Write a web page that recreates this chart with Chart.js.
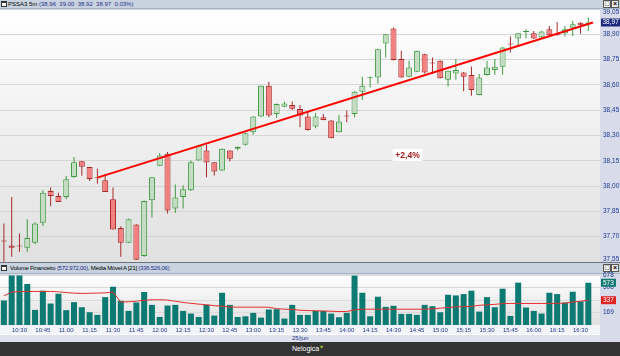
<!DOCTYPE html>
<html><head><meta charset="utf-8">
<script src="https://cdn.jsdelivr.net/npm/chart.js@4/dist/chart.umd.min.js"></script>
<style>
html,body{margin:0;padding:0;}
body{width:620px;height:356px;position:relative;overflow:hidden;background:#d7dbea;font-family:"Liberation Sans",Arial,sans-serif;}
.a{position:absolute;}
.hdr{left:0;width:620px;background:#c9d3df;border-bottom:1px solid #a7b2c0;font-size:6px;white-space:pre;color:#000;}
.nv{color:#1a2f8a;}
.ico{width:4px;height:3px;border:1px solid #333;border-top-width:2px;background:#fff;}
.btn{width:6px;height:6px;border:1px solid #555;background:#f2f2f2;font-size:7px;line-height:6px;text-align:center;color:#000;font-weight:bold;}
canvas{position:absolute;left:0;}
</style></head>
<body>
<div class="a hdr" style="top:0;height:8px;line-height:8px;"><span class="a ico" style="left:1px;top:1px;"></span><span class="a" style="left:8px;top:0;">PSSA3 5m <span class="nv">(38.96  39.00  38.92  38.97  0.03%)</span></span><span class="a btn" style="left:603px;top:0px;">□</span><span class="a btn" style="left:611px;top:0px;">×</span></div>
<div class="a" style="left:0;top:262px;width:620px;height:1px;background:#6e737c;"></div>
<div class="a hdr" style="top:263px;height:10px;line-height:10px;"><span class="a ico" style="left:1px;top:2px;"></span><span class="a" style="left:10px;top:0;letter-spacing:-0.25px;">Volume Financeiro <span class="nv">(572.972,00)</span>, Média Móvel A [21] <span class="nv">(336.526,06)</span></span><span class="a btn" style="left:603px;top:1px;">□</span><span class="a btn" style="left:611px;top:1px;">×</span></div>
<div class="a" style="left:0;top:325px;width:600px;height:9px;background:#f3f4f8;"></div>
<div class="a" style="left:0;top:334px;width:600px;height:8px;background:#dfe2ec;border-top:1px solid #ffffff;box-sizing:border-box;"></div>
<div class="a" style="left:292px;top:335px;font-size:6px;line-height:7px;color:#1a2f8a;">25/jun</div>
<div class="a" style="left:0;top:342px;width:620px;height:14px;background:#333333;"></div>
<div class="a" style="left:292px;top:344px;font-size:7px;line-height:10px;color:#ffffff;">Nelogica<span style="color:#a6d22c;font-size:6px;position:relative;top:-2px;">✦</span></div>
<canvas id="price" width="620" height="262" style="top:0;width:620px;height:262px;"></canvas>
<canvas id="vol" width="620" height="65" style="top:270px;width:620px;height:65px;"></canvas>
<script>
const categories = ['10:20','10:25','10:30','10:35','10:40','10:45','10:50','10:55','11:00','11:05',
'11:10','11:15','11:20','11:25','11:30','11:35','11:40','11:45','11:50','11:55',
'12:00','12:05','12:10','12:15','12:20','12:25','12:30','12:35','12:40','12:45',
'12:50','12:55','13:00','13:05','13:10','13:15','13:20','13:25','13:30','13:35',
'13:40','13:45','13:50','13:55','14:00','14:05','14:10','14:15','14:20','14:25',
'14:30','14:35','14:40','14:45','14:50','14:55','15:00','15:05','15:10','15:15',
'15:20','15:25','15:30','15:35','15:40','15:45','15:50','15:55','16:00','16:05',
'16:10','16:15','16:20','16:25','16:30','16:35'];
const timeTicks = ['10:30','10:45','11:00','11:15','11:30','11:45','12:00','12:15','12:30','12:45',
'13:00','13:15','13:30','13:45','14:00','14:15','14:30','14:45','15:00','15:15',
'15:30','15:45','16:00','16:15','16:30'];
const openP = [37.676,37.648,37.646,37.634,37.664,37.782,37.971,37.942,37.936,38.054,
38.148,38.113,38.050,38.034,37.922,37.751,37.664,37.772,37.585,37.916,
38.121,38.192,37.867,37.936,37.975,38.152,38.211,38.142,38.093,38.211,
38.221,38.245,38.320,38.412,38.595,38.428,38.471,38.481,38.457,38.412,
38.353,38.408,38.389,38.320,38.416,38.428,38.560,38.643,38.644,38.845,
38.935,38.753,38.648,38.678,38.782,38.731,38.743,38.631,38.668,38.674,
38.658,38.540,38.658,38.688,38.707,38.843,38.875,38.914,38.906,38.881,
38.930,38.900,38.906,38.939,38.969,38.96];
const highP = [37.778,37.936,37.719,37.804,37.785,37.975,37.991,37.961,38.060,38.172,
38.150,38.113,38.103,38.073,37.991,37.762,37.806,37.774,37.914,38.054,
38.196,38.202,38.009,38.005,38.152,38.245,38.245,38.142,38.225,38.212,
38.235,38.316,38.414,38.597,38.619,38.489,38.501,38.501,38.481,38.438,
38.434,38.428,38.392,38.422,38.448,38.562,38.648,38.650,38.814,38.902,
38.940,38.802,38.743,38.804,38.784,38.763,38.745,38.686,38.753,38.676,
38.709,38.664,38.743,38.753,38.824,38.887,38.908,38.930,38.920,38.920,
38.949,38.973,38.949,38.979,38.971,39.00];
const lowP = [37.552,37.581,37.611,37.611,37.655,37.764,37.881,37.906,37.922,38.050,
38.062,38.030,38.014,37.965,37.743,37.581,37.662,37.562,37.581,37.814,
38.119,37.837,37.841,37.867,37.971,38.150,38.052,38.063,38.090,38.148,
38.213,38.241,38.304,38.410,38.408,38.404,38.467,38.451,38.349,38.330,
38.343,38.390,38.283,38.318,38.379,38.408,38.510,38.585,38.609,38.763,
38.745,38.643,38.646,38.676,38.668,38.664,38.638,38.591,38.631,38.562,
38.536,38.538,38.656,38.660,38.660,38.792,38.837,38.875,38.873,38.877,
38.892,38.892,38.887,38.890,38.904,38.92];
const closeP = [37.672,37.634,37.642,37.692,37.778,37.961,37.942,37.906,38.040,38.142,
38.115,38.042,38.046,37.965,37.743,37.664,37.804,37.564,37.912,38.052,
38.182,37.855,37.932,37.981,38.142,38.241,38.140,38.087,38.222,38.162,
38.233,38.314,38.412,38.595,38.418,38.487,38.489,38.459,38.418,38.333,
38.412,38.392,38.284,38.383,38.412,38.560,38.595,38.648,38.812,38.900,
38.747,38.644,38.703,38.802,38.674,38.727,38.640,38.684,38.688,38.648,
38.570,38.644,38.703,38.707,38.822,38.839,38.906,38.920,38.875,38.916,
38.894,38.894,38.930,38.959,38.953,38.97];
const volume = [332,672,672,556,205,465,291,424,201,310,
241,173,137,378,519,328,191,305,447,273,
109,264,273,191,155,109,273,128,437,273,
109,118,164,100,210,214,87,273,137,137,
191,191,155,105,164,670,437,118,383,246,
260,150,150,137,273,255,173,410,401,419,
465,182,378,241,492,123,574,237,191,155,
437,419,305,451,323,573];
const volumeMA = [396,447,452,455,455,455,455,450,440,432,
428,430,433,436,447,310,315,322,335,342,
342,338,322,305,294,283,275,262,255,245,
242,242,242,242,240,222,214,212,200,196,
193,190,186,183,183,205,214,214,214,214,
214,214,214,214,214,220,228,238,245,250,
252,268,273,280,290,292,292,292,292,292,
292,294,296,310,322,336.5];
const priceTicks = [37.55,37.70,37.85,38.00,38.15,38.30,38.45,38.60,38.75,38.90,39.05];
const volumeTicks = [169,339,508,678];
const trendX = [12,75.6];
const trendY = [38.05,38.97];
const trendNote = {text:'+2,4%', x:51.8, y:38.185};

const NAVY = '#1e3a8c';
const UP_FILL = '#c4dcc4', UP_LINE = '#3f9a3f', DN_FILL = '#f47f7f', DN_LINE = '#a82b2b';
const FONT = 'Liberation Sans';
const fmtP = v => Number(v).toFixed(2).replace('.', ',');
const idx = categories.map((c, i) => i);
const isUp = closeP.map((c, i) => c >= openP[i]);
const last = categories.length - 1;

function bgPlugin(id){
  return {id, beforeDraw(chart){
    const {ctx, chartArea:a} = chart;
    const g = ctx.createLinearGradient(0, a.top, 0, a.bottom);
    g.addColorStop(0, '#ffffff'); g.addColorStop(1, '#e0e0e0');
    ctx.save(); ctx.fillStyle = g; ctx.fillRect(a.left, a.top, a.right - a.left, a.bottom - a.top); ctx.restore();
  }};
}

const priceOverlay = {id:'priceOverlay', afterDraw(chart){
  const {ctx} = chart; const ys = chart.scales.y, xs = chart.scales.x;
  ctx.save();
  ctx.font = '6.5px "' + FONT + '"'; ctx.textBaseline = 'middle'; ctx.textAlign = 'left';
  ctx.fillStyle = NAVY;
  ctx.fillText(fmtP(priceTicks[priceTicks.length-1]), ys.left + 3, ys.getPixelForValue(priceTicks[priceTicks.length-1]) + 3);
  ctx.fillText(fmtP(priceTicks[0]), ys.left + 3, ys.getPixelForValue(priceTicks[0]) - 3);
  const py = ys.getPixelForValue(closeP[last]);
  ctx.fillStyle = '#1c2a7e'; ctx.fillRect(ys.left + 1, py - 4, 19, 8);
  ctx.fillStyle = '#ffffff'; ctx.fillText(fmtP(closeP[last]), ys.left + 2.5, py);
  const ax = xs.getPixelForValue(trendNote.x), ay = ys.getPixelForValue(trendNote.y);
  ctx.fillStyle = '#ffffff'; ctx.fillRect(ax - 15, ay - 6, 30, 12);
  ctx.font = 'bold 8.5px "' + FONT + '"'; ctx.textAlign = 'center';
  ctx.fillStyle = '#a31818'; ctx.fillText(trendNote.text, ax, ay + 0.5);
  ctx.restore();
}};

new Chart(document.getElementById('price'), {
  type:'bar',
  data:{datasets:[
    {type:'line', data: trendX.map((x,k)=>({x, y:trendY[k]})), borderColor:'#ff0000', borderWidth:2, pointRadius:0, order:0},
    {data: idx.map(i=>({x:i, y:[Math.min(openP[i],closeP[i]), Math.max(openP[i],closeP[i])]})),
     backgroundColor: isUp.map(u=>u?UP_FILL:DN_FILL), borderColor: isUp.map(u=>u?UP_LINE:DN_LINE),
     borderWidth:1, borderSkipped:false, barThickness:6, minBarLength:1, grouped:false, inflateAmount:0, order:1},
    {data: idx.map(i=>({x:i, y:[lowP[i], highP[i]]})),
     backgroundColor: isUp.map(u=>u?UP_LINE:DN_LINE), borderWidth:0, barThickness:1, grouped:false, inflateAmount:0, order:2}
  ]},
  options:{
    responsive:false, animation:false, events:[], devicePixelRatio:1,
    layout:{padding:{top:9,left:0,right:0,bottom:0}},
    plugins:{legend:{display:false}, tooltip:{enabled:false}},
    scales:{
      x:{type:'linear', min:-0.5, max:76.5, offset:false, display:false},
      y:{position:'right', min:37.55, max:39.05,
         afterBuildTicks: s => { s.ticks = priceTicks.map(v=>({value:v})); },
         afterFit: s => { s.width = 20; s.paddingTop = 0; s.paddingBottom = 0; },
         grid:{color:'#d6d6d6', drawTicks:false}, border:{display:false},
         ticks:{padding:3, color:NAVY, font:{family:FONT, size:6.5},
                callback:(v,i)=> (i===0 || i===priceTicks.length-1) ? '' : fmtP(v)}}
    }
  },
  plugins:[bgPlugin('pbg'), priceOverlay]
});

const volOverlay = {id:'volOverlay', afterDraw(chart){
  const {ctx} = chart; const ys = chart.scales.y;
  ctx.save();
  ctx.font = '6.5px "' + FONT + '"'; ctx.textBaseline = 'middle'; ctx.textAlign = 'left';
  const vy = ys.getPixelForValue(volume[last]);
  ctx.fillStyle = '#0e7a72'; ctx.fillRect(ys.left + 1, vy - 4, 15, 8);
  ctx.fillStyle = '#ffffff'; ctx.fillText(String(Math.round(volume[last])), ys.left + 3, vy);
  const my = ys.getPixelForValue(volumeMA[last]);
  ctx.fillStyle = '#e52222'; ctx.fillRect(ys.left + 1, my - 4, 15, 8);
  ctx.fillStyle = '#ffffff'; ctx.fillText(String(Math.round(volumeMA[last])), ys.left + 3, my);
  ctx.restore();
}};

new Chart(document.getElementById('vol'), {
  type:'bar',
  data:{datasets:[
    {type:'line', data: idx.map(i=>({x:i, y:volumeMA[i]})), borderColor:'#e53030', borderWidth:1, pointRadius:0, order:0},
    {data: idx.map(i=>({x:i, y:volume[i]})), backgroundColor:'#0b7a72', borderWidth:0, barThickness:6, grouped:false, inflateAmount:0, order:1}
  ]},
  options:{
    responsive:false, animation:false, events:[], devicePixelRatio:1,
    layout:{padding:{top:5,left:0,right:0,bottom:0}},
    plugins:{legend:{display:false}, tooltip:{enabled:false}},
    scales:{
      x:{type:'linear', min:-0.5, max:76.5, offset:false, position:'bottom',
         afterBuildTicks: s => { s.ticks = timeTicks.map(t=>({value:categories.indexOf(t)})); },
         afterFit: s => { s.height = 10; s.paddingLeft = 0; s.paddingRight = 0; },
         grid:{display:false, drawTicks:false}, border:{display:false},
         ticks:{padding:2, autoSkip:false, maxRotation:0, color:NAVY, font:{family:FONT, size:6},
                callback: v => categories[v]}},
      y:{position:'right', min:0, max:678,
         afterBuildTicks: s => { s.ticks = volumeTicks.map(v=>({value:v})); },
         afterFit: s => { s.width = 20; s.paddingTop = 0; s.paddingBottom = 0; },
         grid:{color:'#dadada', drawTicks:false}, border:{display:false},
         ticks:{padding:3, color:NAVY, font:{family:FONT, size:6.5}, callback: v => String(Math.round(v))}}
    }
  },
  plugins:[bgPlugin('vbg'), volOverlay]
});
</script>
</body></html>
